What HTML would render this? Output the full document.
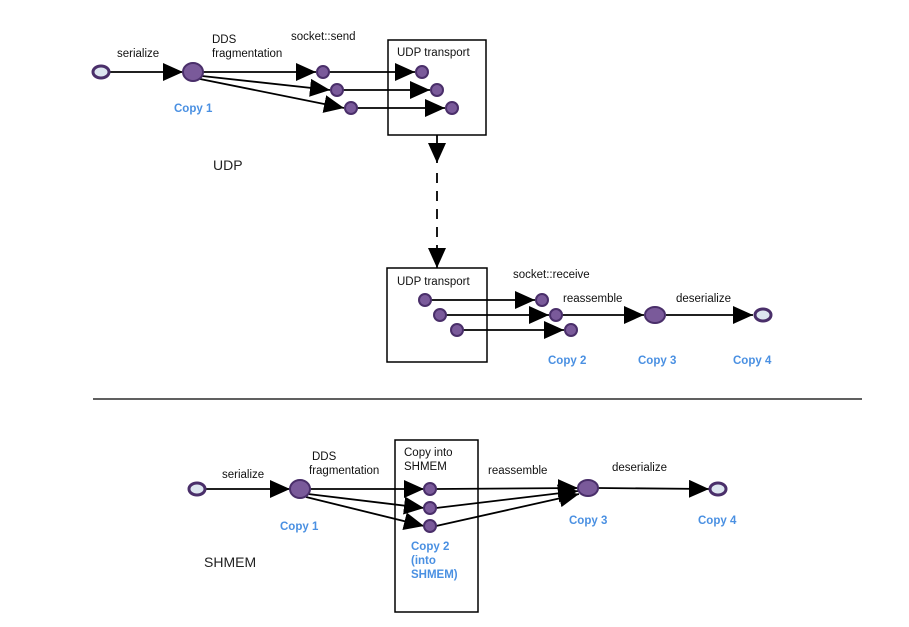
<!DOCTYPE html>
<html><head><meta charset="utf-8"><style>
html,body{margin:0;padding:0;background:#fff;}
svg{display:block;font-family:"Liberation Sans",sans-serif;}
.t{font-size:11.5px;fill:#111;}
.b{font-size:11.5px;fill:#4a90e2;font-weight:bold;}
.n{fill:#7a5a9a;stroke:#4a2f6a;stroke-width:2;}
.l{fill:#dde6f0;stroke:#4a2f6a;stroke-width:3;}
.e{stroke:#000;stroke-width:1.8;fill:none;}
</style></head><body>
<svg width="909" height="627" viewBox="0 0 909 627">
<defs>
<marker id="a" markerUnits="userSpaceOnUse" markerWidth="22" markerHeight="20" refX="20" refY="9" orient="auto"><path d="M0,0 L20,9 L0,18 Z" fill="#000"/></marker>
</defs>
<text class="t" x="117" y="57">serialize</text>
<text class="t" x="212" y="43">DDS</text>
<text class="t" x="212" y="57">fragmentation</text>
<text class="t" x="291" y="40">socket::send</text>
<rect x="388" y="40" width="98" height="95" fill="none" stroke="#000" stroke-width="1.5"/>
<text class="t" x="397" y="56">UDP transport</text>
<line class="e" x1="110" y1="72" x2="183" y2="72" marker-end="url(#a)"/>
<line class="e" x1="203" y1="72" x2="316" y2="72" marker-end="url(#a)"/>
<line class="e" x1="202" y1="76" x2="330" y2="90" marker-end="url(#a)"/>
<line class="e" x1="200" y1="79" x2="344" y2="108" marker-end="url(#a)"/>
<line class="e" x1="329" y1="72" x2="415" y2="72" marker-end="url(#a)"/>
<line class="e" x1="343" y1="90" x2="430" y2="90" marker-end="url(#a)"/>
<line class="e" x1="357" y1="108" x2="445" y2="108" marker-end="url(#a)"/>
<ellipse class="l" cx="101" cy="72" rx="8" ry="6"/>
<ellipse class="n" cx="193" cy="72" rx="10" ry="9"/>
<circle class="n" cx="323" cy="72" r="6"/>
<circle class="n" cx="337" cy="90" r="6"/>
<circle class="n" cx="351" cy="108" r="6"/>
<circle class="n" cx="422" cy="72" r="6"/>
<circle class="n" cx="437" cy="90" r="6"/>
<circle class="n" cx="452" cy="108" r="6"/>
<text class="b" x="174" y="112">Copy 1</text>
<text x="213" y="170" font-size="14" fill="#222">UDP</text>
<line class="e" x1="437" y1="135" x2="437" y2="163" marker-end="url(#a)"/>
<line class="e" x1="437" y1="173" x2="437" y2="250" stroke-dasharray="10,8"/>
<line class="e" x1="437" y1="250" x2="437" y2="268" marker-end="url(#a)"/>
<rect x="387" y="268" width="100" height="94" fill="none" stroke="#000" stroke-width="1.5"/>
<text class="t" x="397" y="285">UDP transport</text>
<text class="t" x="513" y="278">socket::receive</text>
<text class="t" x="563" y="302">reassemble</text>
<text class="t" x="676" y="302">deserialize</text>
<line class="e" x1="431" y1="300" x2="535" y2="300" marker-end="url(#a)"/>
<line class="e" x1="446" y1="315" x2="549" y2="315" marker-end="url(#a)"/>
<line class="e" x1="463" y1="330" x2="564" y2="330" marker-end="url(#a)"/>
<line class="e" x1="562" y1="315" x2="644" y2="315" marker-end="url(#a)"/>
<line class="e" x1="666" y1="315" x2="753" y2="315" marker-end="url(#a)"/>
<circle class="n" cx="425" cy="300" r="6"/>
<circle class="n" cx="440" cy="315" r="6"/>
<circle class="n" cx="457" cy="330" r="6"/>
<circle class="n" cx="542" cy="300" r="6"/>
<circle class="n" cx="556" cy="315" r="6"/>
<circle class="n" cx="571" cy="330" r="6"/>
<ellipse class="n" cx="655" cy="315" rx="10" ry="8"/>
<ellipse class="l" cx="763" cy="315" rx="8" ry="6"/>
<text class="b" x="548" y="364">Copy 2</text>
<text class="b" x="638" y="364">Copy 3</text>
<text class="b" x="733" y="364">Copy 4</text>
<line x1="93" y1="399" x2="862" y2="399" stroke="#000" stroke-width="1.2"/>
<rect x="395" y="440" width="83" height="172" fill="none" stroke="#000" stroke-width="1.5"/>
<text class="t" x="404" y="456">Copy into</text>
<text class="t" x="404" y="470">SHMEM</text>
<text class="t" x="222" y="478">serialize</text>
<text class="t" x="312" y="460">DDS</text>
<text class="t" x="309" y="474">fragmentation</text>
<text class="t" x="488" y="474">reassemble</text>
<text class="t" x="612" y="471">deserialize</text>
<line class="e" x1="206" y1="489" x2="290" y2="489" marker-end="url(#a)"/>
<line class="e" x1="310" y1="489" x2="424" y2="489" marker-end="url(#a)"/>
<line class="e" x1="308" y1="494" x2="424" y2="508" marker-end="url(#a)"/>
<line class="e" x1="306" y1="497" x2="424" y2="526" marker-end="url(#a)"/>
<line class="e" x1="436" y1="489" x2="578" y2="488" marker-end="url(#a)"/>
<line class="e" x1="436" y1="508" x2="578" y2="491" marker-end="url(#a)"/>
<line class="e" x1="436" y1="526" x2="579" y2="494" marker-end="url(#a)"/>
<line class="e" x1="598" y1="488" x2="709" y2="489" marker-end="url(#a)"/>
<ellipse class="l" cx="197" cy="489" rx="8" ry="6"/>
<ellipse class="n" cx="300" cy="489" rx="10" ry="9"/>
<circle class="n" cx="430" cy="489" r="6"/>
<circle class="n" cx="430" cy="508" r="6"/>
<circle class="n" cx="430" cy="526" r="6"/>
<ellipse class="n" cx="588" cy="488" rx="10" ry="8"/>
<ellipse class="l" cx="718" cy="489" rx="8" ry="6"/>
<text class="b" x="280" y="530">Copy 1</text>
<text class="b" x="569" y="524">Copy 3</text>
<text class="b" x="698" y="524">Copy 4</text>
<text class="b" x="411" y="550">Copy 2</text>
<text class="b" x="411" y="564">(into</text>
<text class="b" x="411" y="578">SHMEM)</text>
<text x="204" y="567" font-size="14" fill="#222">SHMEM</text>
</svg>
</body></html>
